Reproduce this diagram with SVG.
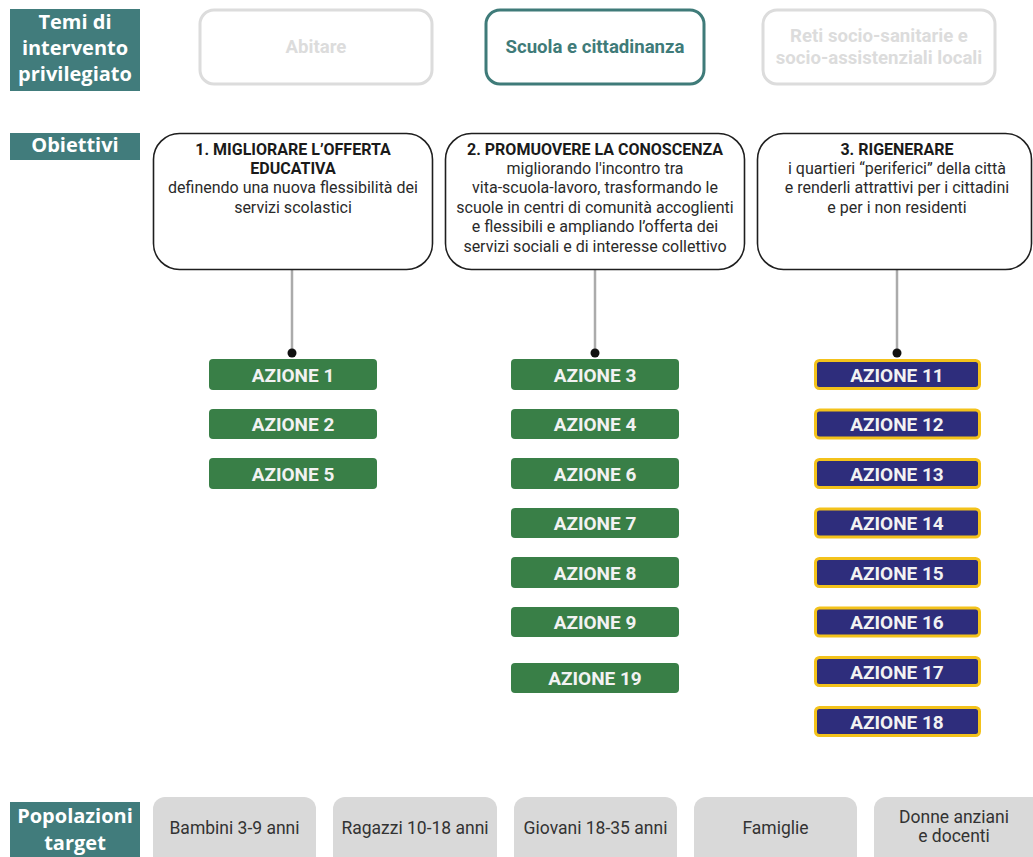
<svg xmlns="http://www.w3.org/2000/svg" width="1033" height="857" viewBox="0 0 1033 857">
<style>
.lab{fill:#417c7c}
.labt{font-family:"Open Sans","DejaVu Sans",sans-serif;font-weight:bold;font-size:20px;fill:#ffffff;text-anchor:middle}
.theme{fill:#ffffff;stroke-width:3}
.themet{font-family:Roboto,"Liberation Sans",sans-serif;font-weight:bold;font-size:18.6px;text-anchor:middle}
.obj{fill:#ffffff;stroke:#1e1e1e;stroke-width:1.6}
.objh{font-family:Roboto,"Liberation Sans",sans-serif;font-weight:bold;font-size:16px;fill:#1a1a1a;text-anchor:middle}
.objt{font-family:Roboto,"Liberation Sans",sans-serif;font-size:16px;fill:#2a2a2a;text-anchor:middle}
.ag{fill:#397f47}
.ab{fill:#2e2d7c;stroke:#f3c21b;stroke-width:3}
.at{font-family:Roboto,"Liberation Sans",sans-serif;font-weight:bold;font-size:19px;fill:#f2f2f2;text-anchor:middle}
.pop{fill:#d9d9d9}
.popt{font-family:Roboto,"Liberation Sans",sans-serif;font-size:17.5px;fill:#333333;text-anchor:middle}
.con{stroke:#ababab;stroke-width:2.5;fill:none}
.dot{fill:#111111}
</style>

<g id="label-temi">
<rect class="lab" x="10" y="9" width="130" height="82"/>
<text class="labt" x="75" y="29">Temi di</text>
<text class="labt" x="75" y="55">intervento</text>
<text class="labt" x="75" y="81">privilegiato</text>
</g>
<g id="label-obiettivi">
<rect class="lab" x="10" y="133" width="130" height="27"/>
<text class="labt" x="75" y="152">Obiettivi</text>
</g>
<g id="label-popolazioni">
<rect class="lab" x="10" y="802" width="130" height="60"/>
<text class="labt" x="75" y="823">Popolazioni</text>
<text class="labt" x="75" y="850">target</text>
</g>

<g id="theme-abitare">
<rect class="theme" x="200" y="10" width="232" height="74" rx="14" stroke="#dcdcdc"/>
<text class="themet" x="316" y="53" fill="#dcdcdc">Abitare</text>
</g>
<g id="theme-scuola">
<rect class="theme" x="486" y="10" width="218" height="74" rx="14" stroke="#3f7b79"/>
<text class="themet" x="595" y="53" fill="#3f7b79">Scuola e cittadinanza</text>
</g>
<g id="theme-reti">
<rect class="theme" x="763" y="10" width="232" height="74" rx="14" stroke="#dcdcdc"/>
<text class="themet" x="879" y="42" fill="#dcdcdc">Reti socio-sanitarie e</text>
<text class="themet" x="879" y="64" fill="#dcdcdc">socio-assistenziali locali</text>
</g>

<g id="connectors">
<line class="con" x1="292" y1="270" x2="292" y2="353"/>
<circle class="dot" cx="292" cy="353" r="4.5"/>
<line class="con" x1="595" y1="270" x2="595" y2="353"/>
<circle class="dot" cx="595" cy="353" r="4.5"/>
<line class="con" x1="897" y1="270" x2="897" y2="353"/>
<circle class="dot" cx="897" cy="353" r="4.5"/>
</g>

<g id="obiettivo-1">
<rect class="obj" x="153.5" y="133.5" width="279" height="136" rx="26"/>
<text class="objh" x="293" y="155">1. MIGLIORARE L’OFFERTA</text>
<text class="objh" x="293" y="174">EDUCATIVA</text>
<text class="objt" x="293" y="193">definendo una nuova flessibilità dei</text>
<text class="objt" x="293" y="213">servizi scolastici</text>
</g>
<g id="obiettivo-2">
<rect class="obj" x="445.5" y="133.5" width="299" height="136" rx="26"/>
<text class="objh" x="595" y="155">2. PROMUOVERE LA CONOSCENZA</text>
<text class="objt" x="595" y="174">migliorando l'incontro tra</text>
<text class="objt" x="595" y="193">vita-scuola-lavoro, trasformando le</text>
<text class="objt" x="595" y="213">scuole in centri di comunità accoglienti</text>
<text class="objt" x="595" y="232">e flessibili e ampliando l’offerta dei</text>
<text class="objt" x="595" y="252">servizi sociali e di interesse collettivo</text>
</g>
<g id="obiettivo-3">
<rect class="obj" x="757.5" y="133.5" width="274" height="136" rx="26"/>
<text class="objh" x="897" y="155">3. RIGENERARE</text>
<text class="objt" x="897" y="174">i quartieri “periferici” della città</text>
<text class="objt" x="897" y="193">e renderli attrattivi per i cittadini</text>
<text class="objt" x="897" y="213">e per i non residenti</text>
</g>

<g id="azione-1"><rect class="ag" x="209" y="359" width="168" height="31" rx="4"/><text class="at" x="293" y="381.5">AZIONE 1</text></g>
<g id="azione-2"><rect class="ag" x="209" y="409" width="168" height="30" rx="4"/><text class="at" x="293" y="430.5">AZIONE 2</text></g>
<g id="azione-5"><rect class="ag" x="209" y="458" width="168" height="31" rx="4"/><text class="at" x="293" y="480.5">AZIONE 5</text></g>

<g id="azione-3"><rect class="ag" x="511" y="359" width="168" height="31" rx="4"/><text class="at" x="595" y="381.5">AZIONE 3</text></g>
<g id="azione-4"><rect class="ag" x="511" y="409" width="168" height="30" rx="4"/><text class="at" x="595" y="430.5">AZIONE 4</text></g>
<g id="azione-6"><rect class="ag" x="511" y="458" width="168" height="31" rx="4"/><text class="at" x="595" y="480.5">AZIONE 6</text></g>
<g id="azione-7"><rect class="ag" x="511" y="508" width="168" height="30" rx="4"/><text class="at" x="595" y="529.5">AZIONE 7</text></g>
<g id="azione-8"><rect class="ag" x="511" y="557" width="168" height="31" rx="4"/><text class="at" x="595" y="579.5">AZIONE 8</text></g>
<g id="azione-9"><rect class="ag" x="511" y="607" width="168" height="30" rx="4"/><text class="at" x="595" y="628.5">AZIONE 9</text></g>
<g id="azione-19"><rect class="ag" x="511" y="663" width="168" height="30" rx="4"/><text class="at" x="595" y="684.5">AZIONE 19</text></g>

<g id="azione-11"><rect class="ab" x="815.5" y="360.5" width="164" height="28" rx="4"/><text class="at" x="897" y="381.5">AZIONE 11</text></g>
<g id="azione-12"><rect class="ab" x="815.5" y="410" width="164" height="28" rx="4"/><text class="at" x="897" y="430.5">AZIONE 12</text></g>
<g id="azione-13"><rect class="ab" x="815.5" y="459.5" width="164" height="28" rx="4"/><text class="at" x="897" y="480.5">AZIONE 13</text></g>
<g id="azione-14"><rect class="ab" x="815.5" y="509" width="164" height="28" rx="4"/><text class="at" x="897" y="529.5">AZIONE 14</text></g>
<g id="azione-15"><rect class="ab" x="815.5" y="558.5" width="164" height="28" rx="4"/><text class="at" x="897" y="579.5">AZIONE 15</text></g>
<g id="azione-16"><rect class="ab" x="815.5" y="608" width="164" height="28" rx="4"/><text class="at" x="897" y="628.5">AZIONE 16</text></g>
<g id="azione-17"><rect class="ab" x="815.5" y="657.5" width="164" height="28" rx="4"/><text class="at" x="897" y="678.5">AZIONE 17</text></g>
<g id="azione-18"><rect class="ab" x="815.5" y="707.5" width="164" height="28" rx="4"/><text class="at" x="897" y="728.5">AZIONE 18</text></g>

<g id="pop-bambini"><rect class="pop" x="153" y="797" width="163" height="75" rx="12"/><text class="popt" x="234.5" y="834">Bambini 3-9 anni</text></g>
<g id="pop-ragazzi"><rect class="pop" x="333" y="797" width="164" height="75" rx="12"/><text class="popt" x="415" y="834">Ragazzi 10-18 anni</text></g>
<g id="pop-giovani"><rect class="pop" x="514" y="797" width="163" height="75" rx="12"/><text class="popt" x="595.5" y="834">Giovani 18-35 anni</text></g>
<g id="pop-famiglie"><rect class="pop" x="694" y="797" width="163" height="75" rx="12"/><text class="popt" x="775.5" y="834">Famiglie</text></g>
<g id="pop-donne"><rect class="pop" x="874" y="797" width="170" height="75" rx="12"/><text class="popt" x="954" y="823">Donne anziani</text><text class="popt" x="954" y="842">e docenti</text></g>
</svg>
